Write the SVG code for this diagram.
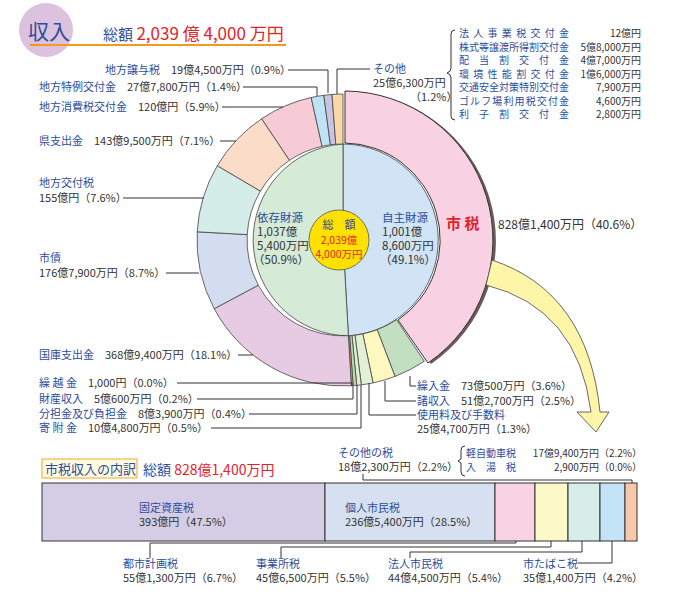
<svg xmlns="http://www.w3.org/2000/svg" width="700" height="604" viewBox="0 0 700 604">
<style>
text{font-family:"Noto Sans CJK JP","Noto Sans",sans-serif;font-size:11px;fill:#333}
.n{fill:#2d4d9a}
.r{fill:#e8202a}
.w{stroke:#444;stroke-width:0.8}
.l{fill:none;stroke:#333;stroke-width:1}
.e{text-anchor:end}
.k{font-size:10px}
.c{font-size:11.5px}
</style>
<rect width="700" height="604" fill="#fff"/>
<g id="title">
<circle cx="46" cy="30" r="27" fill="#dcc2de"/>
<line x1="30" y1="45" x2="286" y2="45" stroke="#f39a1e" stroke-width="2"/>
<text x="28" y="39" style="font-size:21px" class="n">収入</text>
<text x="103" y="40" style="font-size:15px" class="n">総額 <tspan class="r" style="font-size:17px">2,039 億 4,000 万円</tspan></text>
</g>
<g id="donut">
<path class="w" fill="#d0e4f5" d="M343,240 L343,144 A96,96 0 0 1 348.4,335.8 Z"/>
<path class="w" fill="#d5ead7" d="M343,240 L348.4,335.8 A96,96 0 0 1 343,144 Z"/>
<path class="w" fill="#c3dfc2" d="M424.3,361.3 A146,146 0 0 1 395,376.4 L377.2,329.7 A96,96 0 0 0 396.5,319.7 Z"/>
<path class="w" fill="#fdf7c0" d="M395,376.4 A146,146 0 0 1 373.1,382.9 L362.8,333.9 A96,96 0 0 0 377.2,329.7 Z"/>
<path class="w" fill="#e2f1d4" d="M373.1,382.9 A146,146 0 0 1 361.3,384.8 L355,335.2 A96,96 0 0 0 362.8,333.9 Z"/>
<path class="w" fill="#dff0d0" d="M361.3,384.8 A146,146 0 0 1 356.7,385.4 L352,335.6 A96,96 0 0 0 355,335.2 Z"/>
<path class="w" fill="#b8dcb0" d="M356.7,385.4 A146,146 0 0 1 353.1,385.6 L349.6,335.8 A96,96 0 0 0 352,335.6 Z"/>
<path class="w" fill="#f59a6a" d="M353.1,385.6 A146,146 0 0 1 351.3,385.8 L348.4,335.8 A96,96 0 0 0 349.6,335.8 Z"/>
<path class="w" fill="#e6cbe3" d="M351.3,385.8 A146,146 0 0 1 214.2,308.7 L258.3,285.2 A96,96 0 0 0 348.4,335.8 Z"/>
<path class="w" fill="#d4ddf0" d="M214.2,308.7 A146,146 0 0 1 197.2,231.8 L247.2,234.6 A96,96 0 0 0 258.3,285.2 Z"/>
<path class="w" fill="#d5ede9" d="M197.2,231.8 A146,146 0 0 1 217.3,165.7 L260.4,191.1 A96,96 0 0 0 247.2,234.6 Z"/>
<path class="w" fill="#fbdcc8" d="M217.3,165.7 A146,146 0 0 1 261.7,118.7 L289.5,160.3 A96,96 0 0 0 260.4,191.1 Z"/>
<path class="w" fill="#f6cbd6" d="M261.7,118.7 A146,146 0 0 1 311.2,97.5 L322.1,146.3 A96,96 0 0 0 289.5,160.3 Z"/>
<path class="w" fill="#bde3f5" d="M311.2,97.5 A146,146 0 0 1 323.8,95.3 L330.4,144.8 A96,96 0 0 0 322.1,146.3 Z"/>
<path class="w" fill="#cbc3e3" d="M323.8,95.3 A146,146 0 0 1 332,94.4 L335.8,144.3 A96,96 0 0 0 330.4,144.8 Z"/>
<path class="w" fill="#fcd8a8" d="M332,94.4 A146,146 0 0 1 343,94 L343,144 A96,96 0 0 0 335.8,144.3 Z"/>
</g>
<g id="shizei">
<path fill="#6b5a5e" d="M347,92 A149,149 0 0 1 431,364 L400,322 A99,99 0 0 0 347,141 Z"/>
<path fill="#f8d2e3" stroke="#333" stroke-width="1" d="M345,91 A149,149 0 0 1 428,363 L398,320 A97,97 0 0 0 345,143 Z"/>
<text x="446" y="229" class="r" style="font-size:15px;font-weight:bold">市 税</text>
<text x="498" y="229" style="font-size:12px">828億1,400万円（40.6%）</text>
</g>
<g id="center">
<circle cx="339" cy="240" r="30" fill="#ffe100" stroke="#555" stroke-width="0.8"/>
<text x="339" y="229" class="n" text-anchor="middle">総　額</text>
<text x="339" y="244" class="r" text-anchor="middle" style="font-size:10.5px">2,039億</text>
<text x="339" y="258" class="r" text-anchor="middle" style="font-size:10.5px">4,000万円</text>
<text x="257" y="222" class="n c">依存財源</text>
<text x="257" y="236" class="c">1,037億</text>
<text x="257" y="250" class="c">5,400万円</text>
<text x="253" y="264" class="c">（50.9%）</text>
<text x="382" y="222" class="n c">自主財源</text>
<text x="382" y="236" class="c">1,001億</text>
<text x="382" y="250" class="c">8,600万円</text>
<text x="380" y="264" class="c">（49.1%）</text>
</g>
<g id="arrow">
<path fill="#fdf5a8" stroke="#444" stroke-width="0.8" d="M492,260 Q588,292 600,412 L609,412 L596,432 L577,412 L591,412 Q578,308 486,285 Z"/>
</g>
<g id="connectors">
<path class="l" d="M288,70 H328 V93"/>
<path class="l" d="M243,87 H317 V96"/>
<path class="l" d="M222,107 H283"/>
<path class="l" d="M370,69 H337 V94"/>
<path class="l" d="M220,141 H236"/>
<path class="l" d="M123,198 H204"/>
<path class="l" d="M166,273 H199"/>
<path class="l" d="M238,355 H253"/>
<path class="l" d="M177,383 H352 V386"/>
<path class="l" d="M197,399 H353 V386"/>
<path class="l" d="M249,414 H357 V385"/>
<path class="l" d="M211,428 H361 V385"/>
<path class="l" d="M410,376 V386 H416"/>
<path class="l" d="M385,381 V401 H416"/>
<path class="l" d="M369,383 V415 H416"/>
<path class="l" d="M455,30 Q451,30 451,34 V68 Q451,72 447,73 Q451,74 451,78 V116 Q451,120 455,120"/>
<path class="l" d="M363,474 V480 H632 V483"/>
<path class="l" d="M465,446 Q461,446 461,450 V459 L458,461 L461,463 V472 Q461,476 465,476"/>
<path class="l" d="M516,510 V543 H150 V558"/>
<path class="l" d="M551,510 V547 H281 V558"/>
<path class="l" d="M582,510 V552 H410 V558"/>
<path class="l" d="M612,510 V563 H578"/>
</g>
<g id="labels">
<text x="105" y="74"><tspan class="n">地方譲与税</tspan>　19億4,500万円（0.9%）</text>
<text x="39" y="91"><tspan class="n">地方特例交付金</tspan>　27億7,800万円（1.4%）</text>
<text x="39" y="111"><tspan class="n">地方消費税交付金</tspan>　120億円（5.9%）</text>
<text x="373" y="73" class="n">その他</text>
<text x="373" y="87">25億6,300万円</text>
<text x="410" y="101">（1.2%）</text>
<text x="39" y="145"><tspan class="n">県支出金</tspan>　143億9,500万円（7.1%）</text>
<text x="39" y="187" class="n">地方交付税</text>
<text x="39" y="202">155億円（7.6%）</text>
<text x="39" y="262" class="n">市債</text>
<text x="39" y="277">176億7,900万円（8.7%）</text>
<text x="39" y="359"><tspan class="n">国庫支出金</tspan>　368億9,400万円（18.1%）</text>
<text x="39" y="387"><tspan class="n">繰 越 金</tspan>　1,000円（0.0%）</text>
<text x="39" y="403"><tspan class="n">財産収入</tspan>　5億600万円（0.2%）</text>
<text x="39" y="418"><tspan class="n">分担金及び負担金</tspan>　8億3,900万円（0.4%）</text>
<text x="39" y="432"><tspan class="n">寄 附 金</tspan>　10億4,800万円（0.5%）</text>
<text x="417" y="390"><tspan class="n">繰入金</tspan>　73億500万円（3.6%）</text>
<text x="417" y="405"><tspan class="n">諸収入</tspan>　51億2,700万円（2.5%）</text>
<text x="417" y="419" class="n">使用料及び手数料</text>
<text x="417" y="433">25億4,700万円（1.3%）</text>
</g>
<g id="kofukin">
<text x="459" y="37" class="n k" textLength="110" lengthAdjust="spacing">法人事業税交付金</text>
<text x="459" y="50.5" class="n k" textLength="110" lengthAdjust="spacing">株式等譲渡所得割交付金</text>
<text x="459" y="64" class="n k" textLength="110" lengthAdjust="spacing">配当割交付金</text>
<text x="459" y="77.5" class="n k" textLength="110" lengthAdjust="spacing">環境性能割交付金</text>
<text x="459" y="91" class="n k" textLength="110" lengthAdjust="spacing">交通安全対策特別交付金</text>
<text x="459" y="104.5" class="n k" textLength="110" lengthAdjust="spacing">ゴルフ場利用税交付金</text>
<text x="459" y="118" class="n k" textLength="110" lengthAdjust="spacing">利子割交付金</text>
<text x="641" y="37" class="e k">12億円</text>
<text x="641" y="50.5" class="e k">5億8,000万円</text>
<text x="641" y="64" class="e k">4億7,000万円</text>
<text x="641" y="77.5" class="e k">1億6,000万円</text>
<text x="641" y="91" class="e k">7,900万円</text>
<text x="641" y="104.5" class="e k">4,600万円</text>
<text x="641" y="118" class="e k">2,800万円</text>
</g>
<g id="bar">
<rect x="42" y="459" width="95" height="19" fill="#fffbe0" stroke="#f0a830"/>
<text x="45" y="474" class="n" style="font-size:13px">市税収入の内訳</text>
<text x="143" y="475" class="n" style="font-size:14px">総額 <tspan class="r">828億1,400万円</tspan></text>
<g stroke="#333" stroke-width="1">
<rect x="42" y="483" width="283" height="58" fill="#d5cde6"/>
<rect x="325" y="483" width="170" height="58" fill="#d6e0f0"/>
<rect x="495" y="483" width="40" height="58" fill="#f9d3e4"/>
<rect x="535" y="483" width="33" height="58" fill="#fdf8c8"/>
<rect x="568" y="483" width="32" height="58" fill="#d6ede8"/>
<rect x="600" y="483" width="25" height="58" fill="#c3e4f7"/>
<rect x="625" y="483" width="12" height="58" fill="#f9c8a8"/>
</g>
<text x="139" y="512" class="n">固定資産税</text>
<text x="139" y="526">393億円（47.5%）</text>
<text x="345" y="512" class="n">個人市民税</text>
<text x="345" y="526">236億5,400万円（28.5%）</text>
<text x="338" y="457" class="n">その他の税</text>
<text x="338" y="471">18億2,300万円（2.2%）</text>
<text x="466" y="457" class="n k">軽自動車税</text>
<text x="466" y="471" class="n k">入　湯　税</text>
<text x="642" y="457" class="e k">17億9,400万円（2.2%）</text>
<text x="642" y="471" class="e k">2,900万円（0.0%）</text>
<text x="123" y="568" class="n">都市計画税</text>
<text x="123" y="582">55億1,300万円（6.7%）</text>
<text x="256" y="568" class="n">事業所税</text>
<text x="256" y="582">45億6,500万円（5.5%）</text>
<text x="388" y="568" class="n">法人市民税</text>
<text x="388" y="582">44億4,500万円（5.4%）</text>
<text x="523" y="568" class="n">市たばこ税</text>
<text x="523" y="582">35億1,400万円（4.2%）</text>
</g>
</svg>
